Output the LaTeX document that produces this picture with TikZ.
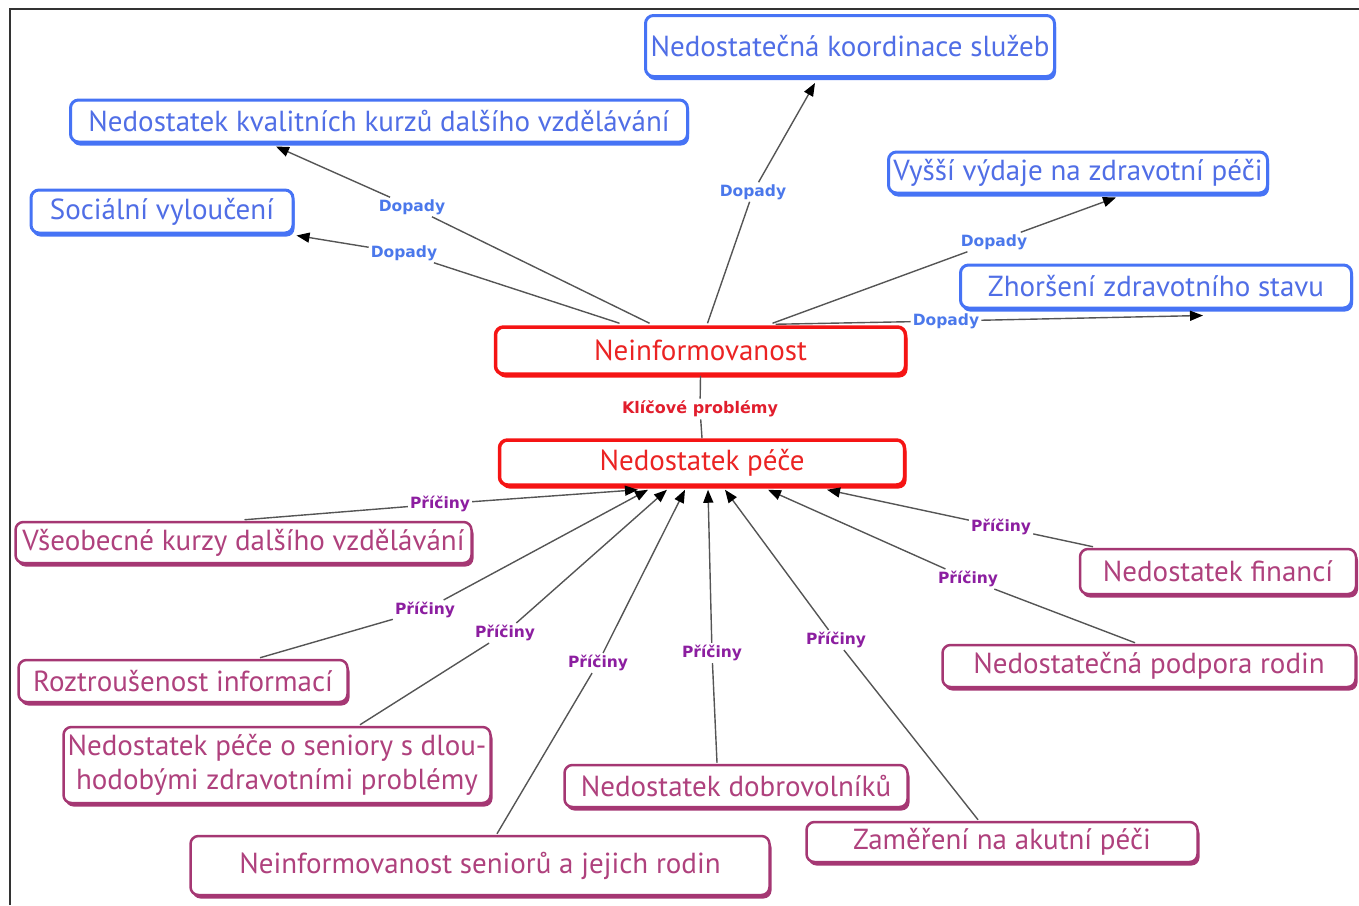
\documentclass[tikz,border=0pt]{standalone}
\usepackage{fontspec}
\setmainfont{PT Sans}
\newfontfamily\labfont{DejaVu Sans}
\usetikzlibrary{arrows.meta,calc,shadows}
\definecolor{blueb}{RGB}{70,115,245}
\definecolor{bluet}{RGB}{80,110,230}
\definecolor{redb}{RGB}{245,20,20}
\definecolor{redt}{RGB}{235,35,35}
\definecolor{purb}{RGB}{165,55,115}
\definecolor{purt}{RGB}{175,65,125}
\definecolor{pric}{RGB}{140,30,160}
\definecolor{dopc}{RGB}{75,120,235}
\definecolor{keyc}{RGB}{225,30,45}
\definecolor{connc}{RGB}{85,85,85}
\tikzset{
  box/.style={rounded corners=8pt, fill=white, line width=3pt, inner sep=0pt, align=center,
    font=\fontsize{29}{34}\selectfont},
  bluebox/.style={box, draw=blueb, text=bluet,
    drop shadow={shadow xshift=1.5pt, shadow yshift=-3.5pt, fill=blueb, opacity=1}},
  redbox/.style={box, draw=redb, text=redt, line width=3.5pt,
    drop shadow={shadow xshift=2pt, shadow yshift=-3.5pt, fill=redb, opacity=1}},
  purbox/.style={box, draw=purb, text=purt, line width=2.5pt,
    drop shadow={shadow xshift=2pt, shadow yshift=-3.5pt, fill=purb, opacity=1}},
  lab/.style={font=\labfont\bfseries\fontsize{15.5}{18}\selectfont, inner sep=2pt},
  dop/.style={lab, text=dopc},
  pri/.style={lab, text=pric},
  key/.style={lab, text=keyc, font=\labfont\bfseries\fontsize{16}{18}\selectfont},
  conn/.style={draw=connc, line width=1.4pt},
  arr/.style={conn, -{Triangle[length=13pt,width=10pt,color=black]}},
}
\begin{document}
\begin{tikzpicture}[x=1pt,y=-1pt]
\useasboundingbox (0,0) rectangle (1359,905);
\draw[line width=2pt, black!80] (10,905) -- (10,9) -- (1359,9);

% blue nodes
\node[bluebox, minimum width=409, minimum height=61] (N1) at (850,46) {Nedostatečná koordinace služeb};
\node[bluebox, minimum width=617, minimum height=42] (N2) at (379,121) {Nedostatek kvalitních kurzů dalšího vzdělávání};
\node[bluebox, minimum width=262, minimum height=43] (N3) at (162,211.5) {Sociální vyloučení};
\node[bluebox, minimum width=379, minimum height=41] (N4) at (1078,172.5) {Vyšší výdaje na zdravotní péči};
\node[bluebox, minimum width=391, minimum height=43] (N5) at (1156,286.5) {Zhoršení zdravotního stavu};

% red nodes
\node[redbox, minimum width=410, minimum height=47] (R1) at (700.5,350.5) {Neinformovanost};
\node[redbox, minimum width=405, minimum height=45] (R2) at (702,462.5) {Nedostatek péče};

% purple nodes
\node[purbox, minimum width=456, minimum height=41] (P1) at (243.5,542.5) {Všeobecné kurzy dalšího vzdělávání};
\node[purbox, minimum width=329, minimum height=42] (P2) at (183,681) {Roztroušenost informací};
\node[purbox, minimum width=427, minimum height=76] (P3) at (277,765) {Nedostatek péče o seniory s dlou-\\hodobými zdravotními problémy};
\node[purbox, minimum width=579, minimum height=59] (P4) at (480,865.5) {Neinformovanost seniorů a jejich rodin};
\node[purbox, minimum width=343, minimum height=42] (P5) at (736,786) {Nedostatek dobrovolníků};
\node[purbox, minimum width=391, minimum height=40] (P6) at (1002,842) {Zaměření na akutní péči};
\node[purbox, minimum width=276, minimum height=45] (P7) at (1218,571.5) {Nedostatek financí};
\node[purbox, minimum width=413, minimum height=42] (P8) at (1149,666) {Nedostatečná podpora rodin};

% labels
\node[dop] (D1) at (412,207) {Dopady};
\node[dop] (D2) at (404,253) {Dopady};
\node[dop] (D3) at (753,192) {Dopady};
\node[dop] (D4) at (994,242) {Dopady};
\node[dop] (D5) at (946,321) {Dopady};
\node[key] (K) at (700,409) {Klíčové problémy};
\node[pri] (L1) at (440,504) {Příčiny};
\node[pri] (L2) at (425,610) {Příčiny};
\node[pri] (L3) at (505,633) {Příčiny};
\node[pri] (L4) at (598,663) {Příčiny};
\node[pri] (L5) at (712,653) {Příčiny};
\node[pri] (L6) at (836,640) {Příčiny};
\node[pri] (L7) at (968,579) {Příčiny};
\node[pri] (L8) at (1001,527) {Příčiny};

% Dopady connectors
\draw[conn] ($(R1.north)+(-51,-2)$) -- (D1);
\draw[arr] (D1) -- ($(N2.south)+(-103,3)$);
\draw[conn] ($(R1.north)+(-81,-2)$) -- (D2);
\draw[arr] (D2) -- ($(N3.south east)+(2,1)$);
\draw[conn] ($(R1.north)+(7,-2)$) -- (D3);
\draw[arr] (D3) -- ($(N1.south)+(-35,5)$);
\draw[conn] ($(R1.north)+(72,-2)$) -- (D4);
\draw[arr] (D4) -- ($(N4.south)+(38,3)$);
\draw[conn] ($(R1.north)+(75,-1)$) -- (D5);
\draw[arr] (D5) -- ($(N5.south)+(47,6)$);

% key connector
\draw[conn] (R1.south) -- (K);
\draw[conn] (K) -- (R2.north);

% Příčiny connectors
\draw[conn] ($(P1.north)+(1,-1)$) -- (L1);
\draw[arr] (L1) -- ($(R2.south)+(-64,3)$);
\draw[conn] ($(P2.north)+(77,-1)$) -- (L2);
\draw[arr] (L2) -- ($(R2.south)+(-54,3)$);
\draw[conn] ($(P3.north)+(83,-1)$) -- (L3);
\draw[arr] (L3) -- ($(R2.south)+(-35,3)$);
\draw[conn] ($(P4.north)+(17,-1)$) -- (L4);
\draw[arr] (L4) -- ($(R2.south)+(-17,3)$);
\draw[conn] ($(P5.north)+(-19,-1)$) -- (L5);
\draw[arr] (L5) -- ($(R2.south)+(6,3)$);
\draw[conn] ($(P6.north)+(-24,-1)$) -- (L6);
\draw[arr] (L6) -- ($(R2.south)+(23,3)$);
\draw[conn] ($(P8.north)+(-14,-1)$) -- (L7);
\draw[arr] (L7) -- ($(R2.south)+(66,3)$);
\draw[conn] ($(P7.north)+(-125,-1)$) -- (L8);
\draw[arr] (L8) -- ($(R2.south)+(125,3)$);
\end{tikzpicture}
\end{document}
